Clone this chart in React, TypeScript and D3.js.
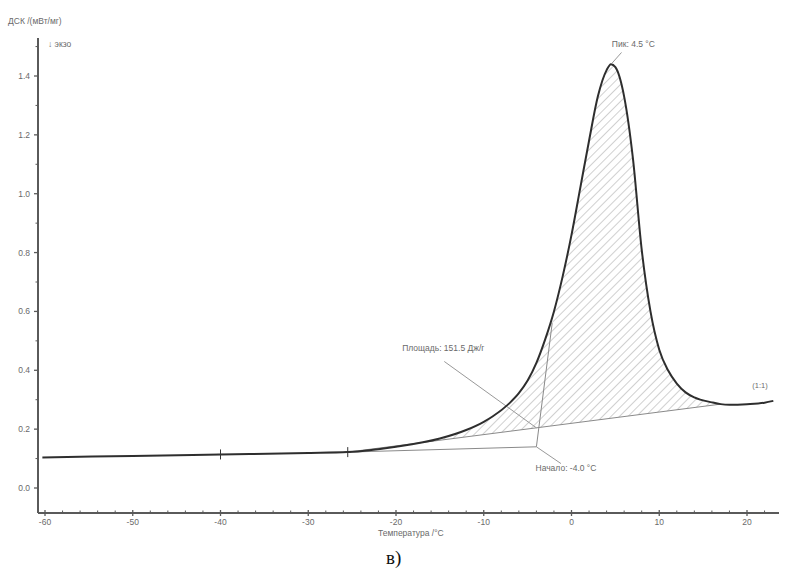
import React from 'react';
import * as d3 from 'd3';

// DSC curve: temperature (°C) and signal (mW/mg)
const temps = [-60.3, -50, -40, -30, -25.5, -20, -15, -12, -10, -9, -7, -6, -5, -4, -3, -2, -1, 0, 1, 2, 3, 4, 4.5, 5, 6, 7, 8, 9, 10, 11, 12, 13, 14, 16, 17, 18, 20, 22, 23];
const dsc = [0.104, 0.109, 0.114, 0.119, 0.122, 0.14, 0.168, 0.197, 0.225, 0.243, 0.29, 0.322, 0.365, 0.425, 0.505, 0.6, 0.72, 0.86, 1.02, 1.18, 1.33, 1.42, 1.44, 1.43, 1.33, 1.12, 0.81, 0.6, 0.47, 0.4, 0.355, 0.325, 0.308, 0.291, 0.285, 0.283, 0.285, 0.29, 0.296];

const xTicks = [-60, -50, -40, -30, -20, -10, 0, 10, 20];
const yTicks = [0, 0.2, 0.4, 0.6, 0.8, 1.0, 1.2, 1.4];

// integration limits (markers) and onset construction
const baseStart = -25.5;
const baseEnd = 17;
const markers = [-40, -25.5];
const onsetT = -4.0;
const onsetY = 0.14;
const tangentTop = { x: -2.2, y: 0.56 };

const W = 793;
const H = 568;

export default function App() {
  const x = d3.scaleLinear().domain([-60, 20]).range([45, 747]);
  const y = d3.scaleLinear().domain([0, 1.4]).range([488, 76]);
  const xMin = x.invert(38), xMax = x.invert(779);
  const yMin = y.invert(513), yMax = y.invert(38);

  const pts = temps.map((t, i) => ({ t, v: dsc[i] }));
  const line = d3.line<any>().x(d => x(d.t)).y(d => y(d.v)).curve(d3.curveMonotoneX);

  const valAt = (t: number) => {
    const i = d3.bisector((d: any) => d.t).left(pts, t);
    if (pts[i].t === t) return pts[i].v;
    const a = pts[i - 1], b = pts[i];
    return a.v + (b.v - a.v) * (t - a.t) / (b.t - a.t);
  };
  const b0 = valAt(baseStart), b1 = valAt(baseEnd);
  const baseAt = (t: number) => b0 + (b1 - b0) * (t - baseStart) / (baseEnd - baseStart);
  const areaPts = pts.filter(p => p.t >= baseStart && p.t <= baseEnd);
  const area = d3.area<any>()
    .x(d => x(d.t)).y1(d => y(d.v)).y0(d => y(baseAt(d.t)))
    .curve(d3.curveMonotoneX);

  const xMinor = d3.range(-60, 24, 2).filter(v => v % 10 !== 0);
  const yMinor = d3.range(0.1, 1.55, 0.2);

  const axisCol = '#5a5a5a';
  const txtCol = '#6a6a6a';
  const font = 'Liberation Sans, Arial, sans-serif';

  const peakI = d3.maxIndex(dsc);

  return (
    <svg width={W} height={H} style={{ position: 'absolute', left: 0, top: 0, background: '#fff' }} fontFamily={font}>
      <defs>
        <pattern id="hatch" width={6} height={6} patternUnits="userSpaceOnUse" patternTransform="rotate(45)">
          <line x1={0} y1={0} x2={0} y2={6} stroke="#a8a8a8" strokeWidth={1.1} />
        </pattern>
      </defs>

      {/* hatched peak area */}
      <path d={area(areaPts) || ''} fill="url(#hatch)" stroke="none" />

      {/* integration baseline */}
      <line x1={x(baseStart)} y1={y(b0)} x2={x(baseEnd)} y2={y(b1)} stroke="#8a8a8a" strokeWidth={1} />
      {/* onset construction */}
      <line x1={x(baseStart)} y1={y(b0)} x2={x(onsetT)} y2={y(onsetY)} stroke="#8a8a8a" strokeWidth={1} />
      <line x1={x(onsetT)} y1={y(onsetY)} x2={x(tangentTop.x)} y2={y(tangentTop.y)} stroke="#8a8a8a" strokeWidth={1} />

      {/* annotation leaders */}
      <line x1={x(-14.5)} y1={y(0.43)} x2={x(-4.0)} y2={y(baseAt(-4.0))} stroke="#999" strokeWidth={1} />
      <line x1={x(onsetT)} y1={y(onsetY)} x2={x(-1.2)} y2={y(0.083)} stroke="#999" strokeWidth={1} />
      <line x1={x(temps[peakI]) + 1} y1={y(dsc[peakI]) - 1} x2={x(5.7)} y2={y(1.48)} stroke="#999" strokeWidth={1} />

      {/* DSC curve */}
      <path d={line(pts) || ''} fill="none" stroke="#2e2e2e" strokeWidth={2} />

      {/* limit markers */}
      {markers.map(m => (
        <g key={m} stroke="#333" strokeWidth={1}>
          <line x1={x(m)} x2={x(m)} y1={y(valAt(m)) - 5} y2={y(valAt(m)) + 5} />
          <line x1={x(m) - 3} x2={x(m) + 3} y1={y(valAt(m))} y2={y(valAt(m))} />
        </g>
      ))}

      {/* axes */}
      <line x1={38} x2={38} y1={y(yMax)} y2={y(yMin)} stroke={axisCol} strokeWidth={2} />
      <line x1={x(xMin)} x2={x(xMax)} y1={y(yMin)} y2={y(yMin)} stroke={axisCol} strokeWidth={2} />

      {yTicks.map(v => (
        <g key={v}>
          <line x1={34} x2={38} y1={y(v)} y2={y(v)} stroke={axisCol} strokeWidth={1.3} />
          <text x={30} y={y(v) + 3} fontSize={8.5} fill={txtCol} textAnchor="end">{v.toFixed(1)}</text>
        </g>
      ))}
      {yMinor.map(v => (
        <line key={v} x1={35.5} x2={38} y1={y(v)} y2={y(v)} stroke={axisCol} strokeWidth={1} />
      ))}

      {xTicks.map(v => (
        <g key={v}>
          <line x1={x(v)} x2={x(v)} y1={y(yMin) - 3} y2={y(yMin) + 3} stroke={axisCol} strokeWidth={1.3} />
          <text x={x(v)} y={y(yMin) + 12} fontSize={8.5} fill={txtCol} textAnchor="middle">{v}</text>
        </g>
      ))}
      {xMinor.map(v => (
        <line key={v} x1={x(v)} x2={x(v)} y1={y(yMin) - 2.5} y2={y(yMin)} stroke={axisCol} strokeWidth={1} />
      ))}

      {/* labels */}
      <text x={8} y={24} fontSize={8.5} fill={txtCol}>ДСК /(мВт/мг)</text>
      <text x={48} y={47} fontSize={8.5} fill={txtCol}>↓ экзо</text>
      <text x={378} y={536} fontSize={8.5} fill={txtCol}>Температура /°C</text>
      <text x={x(4.6)} y={y(1.5)} fontSize={8.5} fill={txtCol}>Пик: 4.5 °C</text>
      <text x={x(-19.3)} y={y(0.465)} fontSize={8.5} fill={txtCol}>Площадь: 151.5 Дж/г</text>
      <text x={x(-4.1)} y={y(0.058)} fontSize={8.5} fill={txtCol}>Начало: -4.0 °C</text>
      <text x={x(20.6)} y={y(0.34)} fontSize={7.5} fill={txtCol}>(1:1)</text>

      <text x={386} y={564} fontSize={19} fontFamily="Liberation Serif, DejaVu Serif, serif" fill="#111">в)</text>
    </svg>
  );
}
